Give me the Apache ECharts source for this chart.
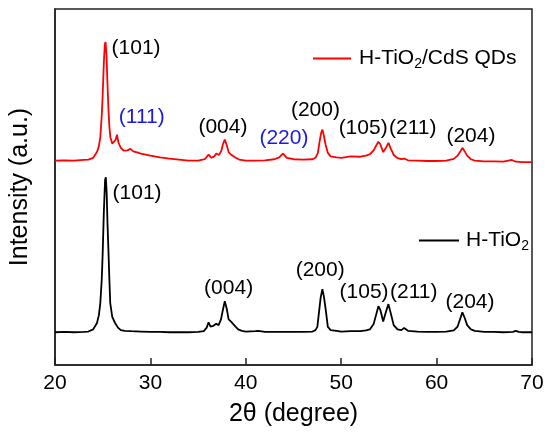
<!DOCTYPE html>
<html><head><meta charset="utf-8">
<script src="https://cdn.jsdelivr.net/npm/echarts@6/dist/echarts.min.js"></script>
<style>html,body{margin:0;padding:0;background:#fff}#c{width:550px;height:432px}</style>
</head><body><div id="c"></div>
<script>
// 2θ (degree), intensity (a.u.)
var tio2 = [[20,92],[21,93],[22,92],[23,93],[23.5,94],[24.0,100],[24.4,118],[24.6,140],[24.75,174],[24.9,240],[25.0,315],[25.12,430],[25.25,520],[25.33,527],[25.42,480],[25.5,400],[25.61,315],[25.7,240],[25.79,174],[26.0,135],[26.3,118],[26.6,105],[26.9,98],[27.3,96],[28,95],[29,94],[30,93],[31,93],[32,92],[33,92],[34,92],[35,93],[35.6,95],[35.9,105],[36.1,120],[36.3,108],[36.6,110],[36.9,116],[37.15,112],[37.4,128],[37.6,155],[37.8,179],[38.0,158],[38.2,128],[38.45,122],[38.6,126],[38.85,110],[39.2,100],[39.6,96],[40,94],[41,95],[41.3,96],[42,93],[43,93],[44,93],[45,93],[46,93],[47,94],[47.3,98],[47.5,107],[47.7,155],[47.85,190],[48.03,213],[48.2,190],[48.38,155],[48.6,107],[48.9,98],[49.5,96],[50,94],[51,95],[52,95],[52.6,97],[53.0,100],[53.4,115],[53.7,145],[53.9,165],[54.1,155],[54.4,122],[54.7,150],[54.95,171],[55.2,145],[55.5,112],[55.9,100],[56.3,98],[56.6,104],[57,96],[58,94],[59,93],[60,93],[61,94],[61.8,97],[62.2,108],[62.45,128],[62.7,148],[62.95,132],[63.2,112],[63.6,100],[64,96],[65,93],[66,93],[67,92],[68,93],[68.3,96],[68.6,93],[69,92],[70,92]];
var tio2cds = [[20,574],[21,575],[22,574],[23,576],[23.5,577],[24.0,582],[24.4,598],[24.6,615],[24.75,640],[24.9,700],[25.0,760],[25.12,850],[25.22,900],[25.3,907],[25.4,870],[25.5,790],[25.6,720],[25.7,670],[25.8,640],[26.0,622],[26.2,618],[26.35,632],[26.5,647],[26.65,625],[26.9,610],[27.2,602],[27.6,603],[27.9,607],[28.2,600],[28.6,597],[29,594],[30,588],[31,583],[32,580],[33,577],[34,574],[35,574],[35.7,578],[36.1,591],[36.4,582],[36.7,586],[36.9,594],[37.2,590],[37.45,603],[37.6,620],[37.8,633],[38.0,618],[38.2,598],[38.4,592],[38.6,596],[38.9,583],[39.3,577],[40,574],[41,574],[42,575],[43,578],[43.5,583],[43.9,594],[44.3,582],[45,578],[46,577],[47,578],[47.3,582],[47.55,595],[47.75,630],[47.9,652],[48.03,661],[48.18,645],[48.35,620],[48.6,596],[48.9,586],[49.5,583],[50,582],[51,586],[52,585],[52.6,588],[53,592],[53.4,603],[53.7,618],[53.9,627],[54.1,620],[54.4,598],[54.65,608],[54.95,624],[55.2,608],[55.5,590],[55.9,581],[56.3,578],[56.6,580],[57,575],[58,574],[59,573],[60,573],[61,574],[61.8,579],[62.2,588],[62.45,598],[62.7,610],[62.95,600],[63.2,588],[63.6,578],[64,574],[65,572],[66,572],[67,571],[67.9,576],[68.3,571],[69,570],[70,570]];
var seriesNames = ['H-TiO2/CdS QDs', 'H-TiO2'];
// peak annotations: [2θ, intensity, text]
var redPeakLabels = [[28.5,890,'(101)'],[29.1,697,'(111)'],[37.6,669,'(004)'],[44.0,636,'(220)'],[47.3,717,'(200)'],[52.3,664,'(105)'],[57.5,664,'(211)'],[63.6,644,'(204)']];
var blackPeakLabels = [[28.6,482,'(101)'],[38.2,216,'(004)'],[47.8,266,'(200)'],[52.4,204,'(105)'],[57.6,204,'(211)'],[63.5,176,'(204)']];
var cdsPhaseLabels = ['(111)','(220)'];
var xTicks = [20,30,40,50,60,70];

var FONT = 'Liberation Sans, Arial, sans-serif';
function labelData(arr, isCds){
  return arr.map(function(d){
    return {value:[d[0],d[1]], name:d[2],
      label:{color: isCds && cdsPhaseLabels.indexOf(d[2])>=0 ? '#1a1ae0' : '#000'}};
  });
}
function legendFmt(name){
  if(name==='H-TiO2') return '{a|H-TiO}{s|2}';
  return '{a|H-TiO}{s|2}{a|/CdS QDs}';
}
var rich = {a:{fontSize:21,fontFamily:FONT,color:'#000',lineHeight:26,verticalAlign:'middle'},
            s:{fontSize:14,fontFamily:FONT,color:'#000',lineHeight:26,verticalAlign:'bottom'}};
var chart = echarts.init(document.getElementById('c'), null, {renderer:'canvas'});
var lblStyle = {show:true,position:'inside',formatter:'{b}',fontSize:21,fontFamily:FONT,opacity:1,textBorderWidth:0};
chart.setOption({
  animation:false,
  backgroundColor:'#fff',
  grid:{left:51,right:18,top:9,bottom:67,show:true,borderColor:'#222',borderWidth:1.5,backgroundColor:'transparent'},
  legend:[
    {data:[seriesNames[0]],left:308,top:43,icon:'rect',itemWidth:38,itemHeight:2,itemGap:0,formatter:legendFmt,textStyle:{rich:rich,padding:[0,0,0,3]}},
    {data:[seriesNames[1]],left:414,top:225,icon:'rect',itemWidth:40,itemHeight:2,itemGap:0,formatter:legendFmt,textStyle:{rich:rich,padding:[0,0,0,2]}}
  ],
  xAxis:{type:'value',min:xTicks[0],max:xTicks[xTicks.length-1],interval:10,
    name:'2θ (degree)',nameLocation:'middle',nameGap:37,
    nameTextStyle:{fontSize:25,fontFamily:FONT,color:'#000'},
    axisLine:{show:true,lineStyle:{color:'#222',width:1.5}},
    axisTick:{show:true,inside:true,length:7,lineStyle:{color:'#222',width:1.5}},
    axisLabel:{fontSize:21,fontFamily:FONT,color:'#000',margin:8},
    splitLine:{show:false}},
  yAxis:{type:'value',min:0,max:1000,
    name:'Intensity (a.u.)',nameLocation:'middle',nameGap:22,
    nameTextStyle:{fontSize:25,fontFamily:FONT,color:'#000'},
    axisLine:{show:true,lineStyle:{color:'#222',width:1.5}},
    axisTick:{show:false},axisLabel:{show:false},splitLine:{show:false}},
  series:[
    {name:seriesNames[0],type:'line',data:tio2cds,symbol:'none',color:'#ff0000',lineStyle:{width:1.8,color:'#ff0000'}},
    {name:seriesNames[1],type:'line',data:tio2,symbol:'none',color:'#000',lineStyle:{width:1.8,color:'#000'}},
    {type:'scatter',data:labelData(redPeakLabels,true),symbolSize:0,silent:true,itemStyle:{opacity:1},label:lblStyle},
    {type:'scatter',data:labelData(blackPeakLabels,false),symbolSize:0,silent:true,itemStyle:{opacity:1},label:lblStyle}
  ]
});
</script></body></html>
